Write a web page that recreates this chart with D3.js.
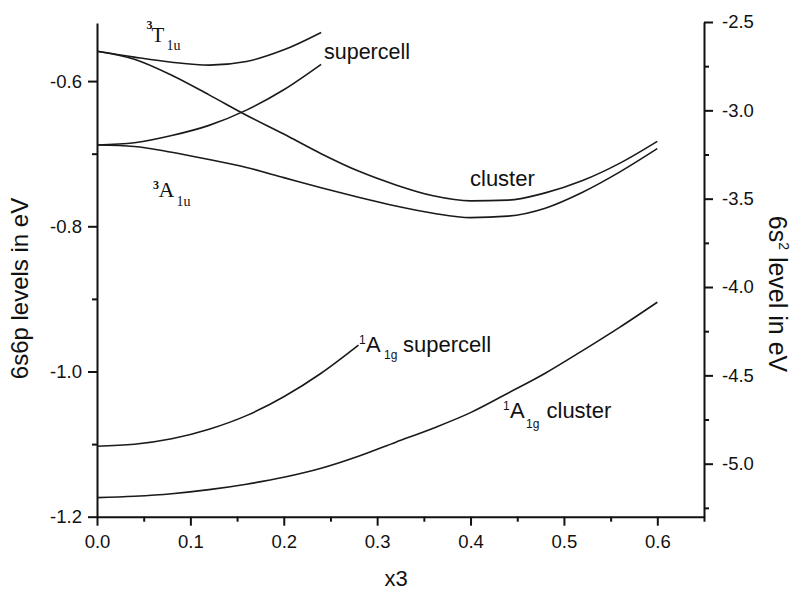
<!DOCTYPE html>
<html>
<head>
<meta charset="utf-8">
<script src="https://cdn.jsdelivr.net/npm/d3@7/dist/d3.min.js"></script>
<style>
  body { margin: 0; background: #fff; }
  svg { display: block; }
  text { font-family: Arial, "Liberation Sans", sans-serif; fill: #111; }
  .serif { font-family: "Times New Roman", "Liberation Serif", serif; }
</style>
</head>
<body>
<svg id="chart" width="792" height="591"></svg>
<script>
// ---- Data ----
const xClusterGrid   = [0,0.04,0.08,0.12,0.16,0.20,0.24,0.28,0.32,0.36,0.40,0.44,0.48,0.52,0.56,0.60];
const xSupercellT    = [0,0.04,0.08,0.12,0.16,0.20,0.24];
const xSupercellA1g  = [0,0.04,0.08,0.12,0.16,0.20,0.24,0.28];

// 6s6p levels (left axis, eV)
const t1uSupercell = [-0.559,-0.567,-0.574,-0.578,-0.573,-0.557,-0.533];
const a1uSupercell = [-0.688,-0.685,-0.675,-0.661,-0.640,-0.612,-0.577];
const t1uCluster   = [-0.559,-0.570,-0.592,-0.619,-0.647,-0.673,-0.700,-0.724,-0.743,-0.758,-0.765,-0.764,-0.754,-0.737,-0.713,-0.683];
const a1uCluster   = [-0.688,-0.690,-0.698,-0.708,-0.719,-0.733,-0.747,-0.760,-0.772,-0.782,-0.788,-0.786,-0.775,-0.753,-0.725,-0.693];

// 6s2 level (right axis, eV)
const a1gSupercell = [-4.901,-4.890,-4.859,-4.805,-4.728,-4.621,-4.488,-4.329];
const a1gCluster   = [-5.192,-5.184,-5.170,-5.147,-5.116,-5.077,-5.026,-4.958,-4.878,-4.799,-4.711,-4.601,-4.488,-4.360,-4.227,-4.086];

// Ticks
const xTicks       = [0,0.1,0.2,0.3,0.4,0.5,0.6];
const xMinorTicks  = [0.05,0.15,0.25,0.35,0.45,0.55,0.65];
const yLeftTicks   = [-1.2,-1.0,-0.8,-0.6];
const yLeftMinor   = [-1.1,-0.9,-0.7];
const yRightTicks  = [-5.0,-4.5,-4.0,-3.5,-3.0,-2.5];
const yRightMinor  = [-5.25,-4.75,-4.25,-3.75,-3.25,-2.75];

// ---- Layout ----
const svg = d3.select("#chart");
const L = 97, R = 704, B = 516.7, TL = 23, TR = 22;

const x  = d3.scaleLinear().domain([0, 0.65]).range([L, R]);
const yL = d3.scaleLinear().domain([-1.2, -0.52]).range([B, TL]);
const yR = d3.scaleLinear().domain([-5.3, -2.5]).range([B, TR]);

function styleAxis(g) {
  g.selectAll("path.domain").attr("stroke", "#111").attr("stroke-width", 2);
  g.selectAll(".tick line").attr("stroke", "#111").attr("stroke-width", 2);
  g.selectAll(".tick text").style("font-size", "18.5px").attr("fill", "#111");
}

// bottom axis
const gx = svg.append("g").attr("transform", `translate(0,${B})`)
  .call(d3.axisBottom(x).tickValues(xTicks).tickSize(9).tickSizeOuter(0).tickPadding(9).tickFormat(d3.format(".1f")));
styleAxis(gx);
const gxm = svg.append("g").attr("transform", `translate(0,${B})`)
  .call(d3.axisBottom(x).tickValues(xMinorTicks).tickSize(5).tickSizeOuter(0).tickFormat(""));
styleAxis(gxm); gxm.select("path.domain").remove();

// left axis
const gl = svg.append("g").attr("transform", `translate(${L},0)`)
  .call(d3.axisLeft(yL).tickValues(yLeftTicks).tickSize(9).tickSizeOuter(0).tickPadding(6).tickFormat(d3.format(".1f")));
styleAxis(gl);
const glm = svg.append("g").attr("transform", `translate(${L},0)`)
  .call(d3.axisLeft(yL).tickValues(yLeftMinor).tickSize(5).tickSizeOuter(0).tickFormat(""));
styleAxis(glm); glm.select("path.domain").remove();

// right axis
const gr = svg.append("g").attr("transform", `translate(${R},0)`)
  .call(d3.axisRight(yR).tickValues(yRightTicks).tickSize(9).tickSizeOuter(0).tickPadding(9).tickFormat(d3.format(".1f")));
styleAxis(gr);
const grm = svg.append("g").attr("transform", `translate(${R},0)`)
  .call(d3.axisRight(yR).tickValues(yRightMinor).tickSize(5).tickSizeOuter(0).tickFormat(""));
styleAxis(grm); grm.select("path.domain").remove();

// use plain hyphen-minus like the reference
svg.selectAll(".tick text").text(function(){ return this.textContent.replace("\u2212","-"); });

// ---- Curves ----
function drawCurve(xs, ys, yScale) {
  const pts = xs.map((d, i) => [d, ys[i]]);
  svg.append("path")
    .datum(pts)
    .attr("fill", "none")
    .attr("stroke", "#1a1a1a")
    .attr("stroke-width", 1.6)
    .attr("stroke-linejoin", "round")
    .attr("d", d3.line().curve(d3.curveMonotoneX).x(d => x(d[0])).y(d => yScale(d[1])));
}
drawCurve(xSupercellT, t1uSupercell, yL);
drawCurve(xSupercellT, a1uSupercell, yL);
drawCurve(xClusterGrid, t1uCluster, yL);
drawCurve(xClusterGrid, a1uCluster, yL);
drawCurve(xSupercellA1g, a1gSupercell, yR);
drawCurve(xClusterGrid, a1gCluster, yR);

// ---- Labels ----
function label(parts, cls) {
  const t = svg.append("text").attr("class", cls || null);
  parts.forEach(p => {
    t.append("tspan").attr("x", p.x).attr("y", p.y)
      .style("font-size", p.s + "px")
      .style("font-weight", p.w || "normal")
      .text(p.t);
  });
}
// 3T1u
label([{t:"3", x:146.5, y:28.5, s:12, w:"bold"}, {t:"T", x:151.5, y:41.5, s:21}, {t:"1u", x:166.5, y:50, s:14}], "serif");
// 3A1u
label([{t:"3", x:153, y:189, s:12, w:"bold"}, {t:"A", x:158.5, y:196.5, s:22}, {t:"1u", x:176.5, y:206, s:14}], "serif");
// supercell / cluster (upper)
label([{t:"supercell", x:324, y:59, s:21.5}]);
label([{t:"cluster", x:470, y:186, s:22}]);
// 1A1g supercell
label([{t:"1", x:359, y:344, s:12}, {t:"A", x:366, y:351.5, s:22}, {t:"1g", x:384, y:359, s:12}, {t:"supercell", x:403, y:351.5, s:22}]);
// 1A1g cluster
label([{t:"1", x:503, y:410, s:12}, {t:"A", x:510, y:418, s:22}, {t:"1g", x:526, y:428, s:12}, {t:"cluster", x:546.5, y:418, s:22}]);

// ---- Axis titles ----
svg.append("text")
  .attr("transform", "translate(28,288.5) rotate(-90)")
  .attr("text-anchor", "middle")
  .style("font-size", "24px")
  .text("6s6p levels in eV");

const rt = svg.append("text")
  .attr("transform", "translate(769,294) rotate(90)")
  .attr("text-anchor", "middle")
  .style("font-size", "25px");
rt.append("tspan").text("6s");
rt.append("tspan").attr("dy", -10).style("font-size", "14px").text("2");
rt.append("tspan").attr("dy", 10).text(" level in eV");

svg.append("text")
  .attr("x", 396).attr("y", 586)
  .attr("text-anchor", "middle")
  .style("font-size", "22px")
  .text("x3");
</script>
</body>
</html>
